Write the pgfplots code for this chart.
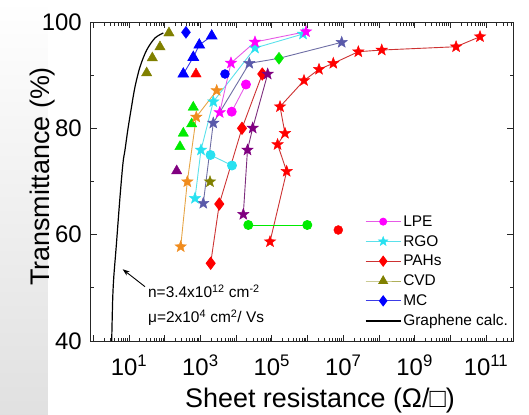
\documentclass[border=0pt]{standalone}
\usepackage{pgfplots}
\pgfplotsset{compat=1.18}
\usepackage{fontspec}
\setmainfont{Liberation Sans}
\usetikzlibrary{arrows.meta}
\definecolor{cmag}{RGB}{255,0,255}
\definecolor{cmagl}{RGB}{230,90,230}
\definecolor{ccyan}{RGB}{40,225,240}
\definecolor{ccyanl}{RGB}{90,225,235}
\definecolor{cred}{RGB}{255,0,0}
\definecolor{credl}{RGB}{205,50,50}
\definecolor{colive}{RGB}{128,128,0}
\definecolor{colivel}{RGB}{175,175,90}
\definecolor{cblue}{RGB}{0,0,255}
\definecolor{cbluel}{RGB}{60,60,230}
\definecolor{cslate}{RGB}{90,90,170}
\definecolor{cslatel}{RGB}{110,110,165}
\definecolor{cpurple}{RGB}{128,0,128}
\definecolor{cpurplel}{RGB}{125,45,125}
\definecolor{cgreen}{RGB}{0,235,0}
\definecolor{corange}{RGB}{240,140,30}
\definecolor{corangel}{RGB}{230,165,70}
\pgfdeclareplotmark{fstar}{%
 \pgfpathmoveto{\pgfpointpolar{90}{\pgfplotmarksize}}%
 \pgfpathlineto{\pgfpointpolar{126}{0.42\pgfplotmarksize}}%
 \pgfpathlineto{\pgfpointpolar{162}{\pgfplotmarksize}}%
 \pgfpathlineto{\pgfpointpolar{198}{0.42\pgfplotmarksize}}%
 \pgfpathlineto{\pgfpointpolar{234}{\pgfplotmarksize}}%
 \pgfpathlineto{\pgfpointpolar{270}{0.42\pgfplotmarksize}}%
 \pgfpathlineto{\pgfpointpolar{306}{\pgfplotmarksize}}%
 \pgfpathlineto{\pgfpointpolar{342}{0.42\pgfplotmarksize}}%
 \pgfpathlineto{\pgfpointpolar{18}{\pgfplotmarksize}}%
 \pgfpathlineto{\pgfpointpolar{54}{0.42\pgfplotmarksize}}%
 \pgfpathclose
 \pgfusepathqfillstroke}
\begin{document}
\begin{tikzpicture}
\shade[top color=white, bottom color=black!12] (-91bp,-74bp) rectangle (-43bp,341bp);
\begin{axis}[
  at={(0,0)}, anchor=south west,
  scale only axis, width=422bp, height=319bp,
  xmode=log, xmin=0.863, xmax=5.7e11, ymin=40, ymax=100,
  xtick={1,10,100,1e3,1e4,1e5,1e6,1e7,1e8,1e9,1e10,1e11},
  xticklabels={,10\textsuperscript{1},,10\textsuperscript{3},,10\textsuperscript{5},,10\textsuperscript{7},,10\textsuperscript{9},,10\textsuperscript{11}},
  minor xtick={2,3,4,5,6,7,8,9,
    20,30,40,50,60,70,80,90,
    200,300,400,500,600,700,800,900,
    2e3,3e3,4e3,5e3,6e3,7e3,8e3,9e3,
    2e4,3e4,4e4,5e4,6e4,7e4,8e4,9e4,
    2e5,3e5,4e5,5e5,6e5,7e5,8e5,9e5,
    2e6,3e6,4e6,5e6,6e6,7e6,8e6,9e6,
    2e7,3e7,4e7,5e7,6e7,7e7,8e7,9e7,
    2e8,3e8,4e8,5e8,6e8,7e8,8e8,9e8,
    2e9,3e9,4e9,5e9,6e9,7e9,8e9,9e9,
    2e10,3e10,4e10,5e10,6e10,7e10,8e10,9e10,
    2e11,3e11,4e11,5e11},
  ytick={40,60,80,100}, yticklabels={40,60,80,100},
  minor ytick={50,70,90},
  tick align=inside, major tick length=6bp, minor tick length=3.5bp,
  axis line style={line width=1bp, black!85},
  every tick/.style={black!85, line width=0.8bp},
  ticklabel style={font=\fontsize{24}{28}\selectfont},
  yticklabel style={inner sep=0pt, xshift=-9bp},
  xticklabel style={inner sep=0pt, anchor=base, yshift=-34bp},
  label style={font=\fontsize{27}{32}\selectfont},
  xlabel={Sheet resistance (Ω/□)},
  ylabel={Transmittance (\%)},
  xlabel style={at={(axis description cs:0.5427,-0.210)}, anchor=base},
  ylabel style={at={(axis description cs:-0.0972,0.516)}, anchor=base},
  legend style={draw=none, fill=none, font=\fontsize{15.5}{18}\selectfont,
    at={(axis description cs:0.649,0.400)}, anchor=north west, row sep=3.6bp, inner sep=0pt,
    /tikz/every even column/.append style={column sep=4bp}},
  legend cell align=left,
  legend image code/.code={\draw[mark repeat=2,mark phase=2,#1] plot coordinates {(0bp,0bp) (17.5bp,0bp) (35bp,0bp)};},
]
% Graphene calc curve
\addplot[black, line width=1.2bp, smooth, forget plot] coordinates {
(3.28,40.0) (3.49,47.71) (3.75,52.04) (4.38,57.68) (5.60,67.09) (6.79,73.48) (7.73,75.93) (9.26,79.69) (11.75,84.01) (14.7,87.77) (20.3,91.54) (31.3,94.73) (53.5,96.99) (91.4,97.93)};
% red stars
\addplot[credl, line width=0.9bp, mark=fstar, mark size=6bp, mark options={solid, draw=cred, fill=cred, line width=0.4bp}, forget plot] coordinates {
(6.79e10,97.24) (1.45e10,95.35) (1.20e8,94.73) (2.65e7,94.41) (5.28e6,92.23) (2.10e6,91.10) (7.98e5,89.00) (1.70e5,84.07) (2.34e5,79.07) (1.45e5,76.96) (2.61e5,71.92) (89100,58.68)};
% slate line and stars
\addplot[cslatel, line width=0.9bp, forget plot] coordinates {
(9.08e6,96.18) (1.59e5,93.17) (23440,92.23) (2296,81.00) (1205,65.90)};
\addplot[only marks, mark=fstar, mark size=6bp, mark options={draw=cslate, fill=cslate, line width=0.4bp}, forget plot] coordinates {
(9.08e6,96.18) (23440,92.23) (2296,81.00) (1205,65.90)};
% cyan stars
\addplot[ccyanl, line width=0.9bp, mark=fstar, mark size=6bp, mark options={solid, draw=ccyan, fill=ccyan, line width=0.4bp}, forget plot] coordinates {
(7.48e5,97.74) (33800,95.11) (2296,85.01) (1040,75.93) (706,66.84)};
% magenta stars
\addplot[cmagl, line width=0.9bp, mark=fstar, mark size=6bp, mark options={solid, draw=cmag, fill=cmag, line width=0.4bp}, forget plot] coordinates {
(9.08e5,98.18) (33800,96.24) (7190,92.29) (3475,82.98)};
% green diamond
\addplot[only marks, mark=diamond*, mark size=6bp, mark options={draw=cgreen, fill=cgreen}, forget plot] coordinates {(1.59e5,93.17)};
% blue circle
\addplot[only marks, mark=*, mark size=4.5bp, mark options={draw=cblue, fill=cblue}, forget plot] coordinates {(4885,90.22)};
% magenta circles
\addplot[cmagl, line width=0.9bp, mark=*, mark size=4.5bp, mark options={solid, draw=cmag, fill=cmag}, forget plot] coordinates {
(18900,88.25) (7535,83.13)};
% red diamonds
\addplot[credl, line width=0.9bp, mark=diamond*, mark size=6bp, mark options={solid, draw=cred, fill=cred}, forget plot] coordinates {
(54200,90.22) (14620,80.01) (3381,65.77) (1941,54.62)};
% purple stars
\addplot[cpurplel, line width=0.9bp, mark=fstar, mark size=6bp, mark options={solid, draw=cpurple, fill=cpurple, line width=0.4bp}, forget plot] coordinates {
(76740,90.22) (29170,80.06) (20840,75.93) (15920,63.83)};
% green triangles
\addplot[only marks, mark=triangle*, mark size=6bp, mark options={draw=cgreen, fill=cgreen}, forget plot] coordinates {
(632,83.96) (570,80.82) (332,79.07) (268,76.55)};
% orange stars
\addplot[corangel, line width=0.9bp, mark=fstar, mark size=6bp, mark options={solid, draw=corange, fill=corange, line width=0.4bp}, forget plot] coordinates {
(2864,87.12) (767,82.13) (430,69.96) (281,57.74)};
% purple triangle
\addplot[only marks, mark=triangle*, mark size=6bp, mark options={draw=cpurple, fill=cpurple}, forget plot] coordinates {(217,71.98)};
% olive star
\addplot[only marks, mark=fstar, mark size=6bp, mark options={draw=colive, fill=colive, line width=0.4bp}, forget plot] coordinates {(1858,69.96)};
% cyan circles
\addplot[ccyanl, line width=0.9bp, mark=*, mark size=4.5bp, mark options={solid, draw=ccyan, fill=ccyan}, forget plot] coordinates {
(1919,74.99) (7674,73.01)};
% green circles
\addplot[cgreen, line width=0.9bp, mark=*, mark size=4.5bp, mark options={solid, draw=cgreen, fill=cgreen}, forget plot] coordinates {
(21980,61.82) (9.86e5,61.82)};
% red circle
\addplot[only marks, mark=*, mark size=4.5bp, mark options={draw=cred, fill=cred}, forget plot] coordinates {(7.29e6,60.88)};
% olive triangles (CVD)
\addplot[only marks, mark=triangle*, mark size=6bp, mark options={draw=colive, fill=colive}, forget plot] coordinates {
(131.8,97.93) (73.8,95.30) (45.0,93.23) (31.3,90.41)};
% blue diamond (MC)
\addplot[only marks, mark=diamond*, mark size=6bp, mark options={draw=cblue, fill=cblue}, forget plot] coordinates {(395,98.06)};
% blue triangles
\addplot[cbluel, line width=0.9bp, mark=triangle*, mark size=6bp, mark options={solid, draw=cblue, fill=cblue}, forget plot] coordinates {
(2075,97.37) (931,95.67) (632,93.36) (332,90.22)};
% red triangle
\addplot[only marks, mark=triangle*, mark size=6bp, mark options={draw=cred, fill=cred}, forget plot] coordinates {(753,90.22)};

% annotation
\draw[-{Stealth[length=7bp,width=5bp]}, line width=0.9bp] (axis cs:28.1,50.22) -- (axis cs:6.66,53.49);
\node[anchor=base west, inner sep=0pt, font=\fontsize{15.5}{18}\selectfont] at (axis cs:34.0,48.09) {n=3.4x10\textsuperscript{12} cm\textsuperscript{-2}};
\node[anchor=base west, inner sep=0pt, font=\fontsize{15.5}{18}\selectfont] at (axis cs:34.0,43.39) {μ=2x10\textsuperscript{4} cm\textsuperscript{2}/ Vs};

% legend
\addlegendimage{cmagl, line width=0.9bp, mark=*, mark size=3.5bp, mark options={solid, draw=cmag, fill=cmag}}
\addlegendentry{LPE}
\addlegendimage{ccyanl, line width=0.9bp, mark=fstar, mark size=5bp, mark options={solid, draw=ccyan, fill=ccyan, line width=0.4bp}}
\addlegendentry{RGO}
\addlegendimage{credl, line width=0.9bp, mark=diamond*, mark size=5bp, mark options={solid, draw=cred, fill=cred}}
\addlegendentry{PAHs}
\addlegendimage{colivel, line width=0.9bp, mark=triangle*, mark size=5bp, mark options={solid, draw=colive, fill=colive}}
\addlegendentry{CVD}
\addlegendimage{cbluel, line width=0.9bp, mark=diamond*, mark size=5bp, mark options={solid, draw=cblue, fill=cblue}}
\addlegendentry{MC}
\addlegendimage{black, line width=1.2bp}
\addlegendentry{Graphene calc.}
\end{axis}
\pgfresetboundingbox
\useasboundingbox (-91bp,-74bp) rectangle (438bp,341bp);
\end{tikzpicture}
\end{document}
